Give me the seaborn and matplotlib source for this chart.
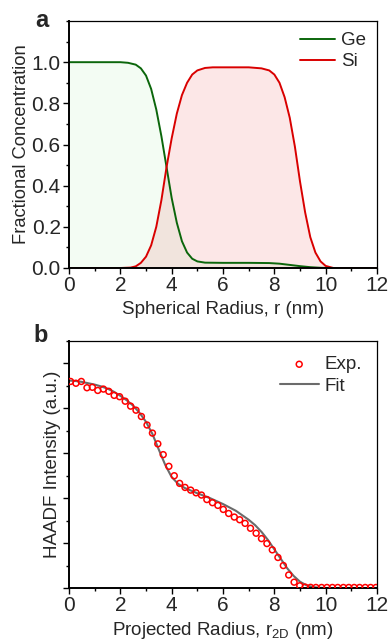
import numpy as np
import pandas as pd
import matplotlib
matplotlib.use("Agg")
import matplotlib.pyplot as plt
from matplotlib.ticker import MultipleLocator
import seaborn as sns

# panel a: radial concentration profiles
ge_r = [0, 1, 2, 2.3, 2.6, 2.8, 3.0, 3.2, 3.4, 3.6, 3.8, 4.0, 4.2, 4.4, 4.6,
        4.8, 5.0, 5.3, 6, 7, 7.8, 8.2, 8.6, 9.0, 9.4, 9.8, 10.2, 12]
ge_c = [1.0, 1.0, 1.0, 0.997, 0.988, 0.97, 0.935, 0.87, 0.77, 0.64, 0.49, 0.34,
        0.22, 0.13, 0.075, 0.045, 0.032, 0.026, 0.025, 0.025, 0.024, 0.021,
        0.015, 0.009, 0.004, 0.001, 0, 0]
si_r = [0, 2, 2.4, 2.6, 2.8, 3.0, 3.2, 3.4, 3.6, 3.8, 4.0, 4.2, 4.4, 4.6, 4.8,
        5.0, 5.3, 5.6, 6.0, 7.0, 7.5, 7.8, 8.0, 8.2, 8.4, 8.6, 8.8, 9.0, 9.2,
        9.4, 9.6, 9.8, 10.0, 10.3, 12]
si_c = [0, 0, 0.002, 0.008, 0.025, 0.055, 0.11, 0.2, 0.33, 0.49, 0.63, 0.75,
        0.84, 0.9, 0.94, 0.96, 0.972, 0.975, 0.975, 0.975, 0.97, 0.96, 0.94,
        0.90, 0.83, 0.73, 0.59, 0.42, 0.27, 0.15, 0.075, 0.032, 0.01, 0.0, 0]

# panel b: HAADF profile, experiment and fit
exp_r = [0.06, 0.27, 0.48, 0.70, 0.91, 1.12, 1.34, 1.55, 1.76, 1.97, 2.19,
         2.40, 2.61, 2.82, 3.04, 3.25, 3.46, 3.67, 3.89, 4.10, 4.31, 4.52,
         4.74, 4.95, 5.16, 5.37, 5.59, 5.80, 6.01, 6.22, 6.44, 6.65, 6.86,
         7.07, 7.29, 7.50, 7.71, 7.92, 8.14, 8.35, 8.56, 8.77, 8.99, 9.20,
         9.41, 9.62, 9.84, 10.05, 10.26, 10.47, 10.69, 10.90, 11.11, 11.32,
         11.54, 11.75, 11.96]
exp_i = [4.60, 4.56, 4.60, 4.46, 4.47, 4.40, 4.43, 4.38, 4.29, 4.26, 4.16,
         4.05, 3.96, 3.82, 3.63, 3.45, 3.21, 2.97, 2.71, 2.50, 2.33, 2.24,
         2.18, 2.12, 2.07, 1.97, 1.90, 1.84, 1.75, 1.66, 1.58, 1.52, 1.44,
         1.33, 1.22, 1.10, 0.99, 0.85, 0.68, 0.50, 0.29, 0.13, 0.05, 0.02,
         0.015, 0.012, 0.012, 0.012, 0.012, 0.012, 0.012, 0.012, 0.012, 0.012,
         0.012, 0.012, 0.012]
fit_r = [0.0, 0.25, 0.5, 0.75, 1.0, 1.25, 1.5, 1.75, 2.0, 2.25, 2.5, 2.75, 3.0,
         3.25, 3.5, 3.75, 4.0, 4.25, 4.5, 4.75, 5.0, 5.5, 6.0, 6.5, 7.0, 7.25,
         7.5, 7.75, 8.0, 8.25, 8.5, 8.75, 9.0, 9.25, 9.5, 9.75, 10.0, 12.0]
fit_i = [4.62, 4.61, 4.59, 4.56, 4.53, 4.49, 4.44, 4.37, 4.28, 4.18, 4.06,
         3.90, 3.70, 3.43, 3.08, 2.74, 2.47, 2.32, 2.23, 2.17, 2.11, 2.00,
         1.87, 1.72, 1.52, 1.40, 1.25, 1.07, 0.86, 0.65, 0.44, 0.27, 0.14,
         0.06, 0.02, 0.005, 0.0, 0.0]

sns.set_style("ticks")
plt.rcParams['font.family'] = ['Liberation Sans', 'DejaVu Sans']
plt.rcParams['mathtext.fontset'] = 'custom'
plt.rcParams['mathtext.rm'] = 'Liberation Sans'

fig = plt.figure(figsize=(3.89, 6.39), dpi=100)
ax1 = fig.add_axes([0.1774, 0.5806, 0.7918, 0.3865])
ax2 = fig.add_axes([0.1774, 0.0798, 0.7918, 0.3865])

green = '#0b660b'
red = '#d90000'

ax1.fill_between(ge_r, ge_c, 0, color='#33d933', alpha=0.06, lw=0)
ax1.fill_between(si_r, si_c, 0, color='#e41a1c', alpha=0.10, lw=0)
sns.lineplot(x=ge_r, y=ge_c, ax=ax1, color=green, lw=1.4, sort=False,
             estimator=None, label='Ge')
sns.lineplot(x=si_r, y=si_c, ax=ax1, color=red, lw=1.4, sort=False,
             estimator=None, label='Si')
ax1.set_xlim(0, 12)
ax1.set_ylim(0, 1.2)
ax1.xaxis.set_major_locator(MultipleLocator(2))
ax1.xaxis.set_minor_locator(MultipleLocator(1))
ax1.yaxis.set_minor_locator(MultipleLocator(0.1))
ax1.set_yticks([0, 0.2, 0.4, 0.6, 0.8, 1.0])
ax1.set_yticklabels(['0.0', '0.2', '0.4', '0.6', '0.8', '1.0'])
ax1.set_xlabel('Spherical Radius, r (nm)', fontsize=13.5, labelpad=4)
ax1.set_ylabel('Fractional Concentration', fontsize=13.2, labelpad=1)
ax1.legend(loc='upper right', frameon=False, fontsize=13.5, handlelength=1.9,
           handletextpad=0.3, labelspacing=0.2, borderaxespad=0.2)

ex_df = pd.DataFrame({'r': exp_r, 'I': exp_i})
fit_df = pd.DataFrame({'r': fit_r, 'I': fit_i})
sns.lineplot(data=fit_df, x='r', y='I', ax=ax2, color='#6b6b6b', lw=1.5,
             sort=False, estimator=None, label='Fit', zorder=2)
sns.scatterplot(data=ex_df, x='r', y='I', ax=ax2, marker='o', s=18,
                facecolor='none', edgecolor='#ff0000', linewidth=1.1,
                label='Exp.', zorder=3)
ax2.set_xlim(0, 12)
ax2.set_ylim(0, 5.5)
ax2.xaxis.set_major_locator(MultipleLocator(2))
ax2.xaxis.set_minor_locator(MultipleLocator(1))
ax2.yaxis.set_major_locator(MultipleLocator(1))
ax2.yaxis.set_minor_locator(MultipleLocator(0.5))
ax2.set_yticklabels([])
ax2.set_xlabel(r'Projected Radius, r$_{\mathregular{2D}}$ (nm)', fontsize=13.5,
               labelpad=3)
ax2.set_ylabel('HAADF Intensity (a.u.)', fontsize=13.5, labelpad=0)
h, l = ax2.get_legend_handles_labels()
ax2.legend([h[1], h[0]], [l[1], l[0]], loc='upper right', frameon=False,
           fontsize=13.5, handlelength=2.1, handletextpad=0.3,
           labelspacing=0.25, borderaxespad=0.4)

for ax in (ax1, ax2):
    ax.spines['left'].set_linewidth(1.4)
    ax.spines['bottom'].set_linewidth(1.4)
    ax.spines['top'].set_linewidth(0.9)
    ax.spines['right'].set_linewidth(0.9)
    for s in ax.spines.values():
        s.set_color('black')
    ax.tick_params(which='major', direction='out', length=4, width=1,
                   labelsize=15, pad=2, color='black')
    ax.tick_params(which='minor', direction='out', length=2.5, width=1,
                   color='black')

fig.text(0.108, 0.968, 'a', fontsize=17, fontweight='bold', ha='center',
         va='center')
fig.text(0.105, 0.475, 'b', fontsize=17, fontweight='bold', ha='center',
         va='center')

fig.savefig('out.png', dpi=100)
